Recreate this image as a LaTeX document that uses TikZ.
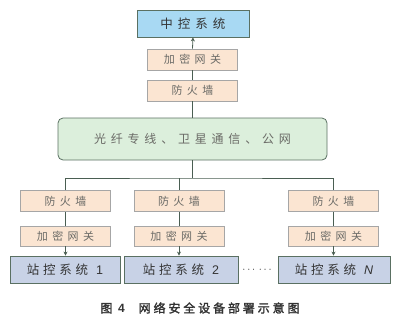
\documentclass[tikz,border=0pt]{standalone}
\usepackage{fontspec}
\usepackage{tikz}
\usetikzlibrary{arrows.meta,positioning,calc}
\newfontfamily\cjk{Noto Sans CJK SC}
\newfontfamily\cjkwide[LetterSpace=40]{Noto Sans CJK SC}
\newfontfamily\cjkst[LetterSpace=30]{Noto Sans CJK SC}
\newfontfamily\cjkcap[LetterSpace=24,FakeBold=2]{Noto Sans CJK SC}
\newfontfamily\latin{Liberation Sans}
\definecolor{ctrfill}{HTML}{A8D9F3}
\definecolor{gwfill}{HTML}{FBE5D2}
\definecolor{netfill}{HTML}{DCEFDC}
\definecolor{stfill}{HTML}{C8D2E6}
\definecolor{edge}{HTML}{5A7062}
\definecolor{wire}{HTML}{4A5E52}
\definecolor{ink}{HTML}{333333}
\definecolor{softink}{HTML}{6A6A66}

\begin{document}
\begin{tikzpicture}[
  x=1pt, y=-1pt,
  >={Stealth[length=4pt,width=4pt]},
  box/.style={
    draw=edge, line width=0.8pt,
    align=center, inner sep=0pt
  },
  ctr/.style={box, fill=ctrfill, minimum width=112pt, minimum height=27pt,
    text=ink, font=\cjkwide\fontsize{12.5}{14}\selectfont},
  gw/.style={box, draw=gray!70, fill=gwfill, minimum width=90pt, minimum height=21pt,
    text=softink, font=\cjkwide\fontsize{11}{13}\selectfont},
  net/.style={box, fill=netfill, rounded corners=5pt, minimum width=269pt,
    minimum height=42pt, text=softink, font=\cjkwide\fontsize{12}{14}\selectfont},
  st/.style={box, fill=stfill, minimum height=27pt,
    text=ink, font=\cjkst\fontsize{12.5}{14}\selectfont},
  wire/.style={draw=wire, line width=0.8pt},
  arr/.style={wire, ->}
]
  \useasboundingbox (0,0) rectangle (400,322);

  % Central side
  \node[ctr] (center) at (193,23.5) {中控系统};
  \node[gw] (encc) at (192.5,59.5) {加密网关};
  \node[gw] (fwc) at (192.5,90.5) {防火墙};

  % Transport network
  \node[net] (link) at (192.5,139) {光纤专线、卫星通信、公网};

  % Station side
  \node[gw] (fwa) at (65.5,201) {防火墙};
  \node[gw] (fwb) at (179,201) {防火墙};
  \node[gw] (fwn) at (333.5,201) {防火墙};
  \node[gw, minimum height=20pt] (enca) at (65.5,236) {加密网关};
  \node[gw, minimum height=20pt] (encb) at (179,236) {加密网关};
  \node[gw, minimum height=20pt] (encn) at (333.5,236) {加密网关};
  \node[st, minimum width=110pt] (sta) at (65,269.5) {站控系统\hspace{8pt}{\latin 1}};
  \node[st, minimum width=114pt] (stb) at (181,269.5) {站控系统\hspace{8pt}{\latin 2}};
  \node[st, minimum width=112pt] (stn) at (334,269.5) {站控系统\hspace{8pt}{\latin\itshape N}};
  \node[text=ink, font=\cjk\fontsize{11}{13}\selectfont] (dots) at (257,270) {$\cdots\,\cdots$};

  % Caption
  \node[text=ink, font=\cjkcap\fontsize{12}{14}\selectfont] (cap) at (200,308)
    {图 {\latin\bfseries 4}\hspace{14pt}网络安全设备部署示意图};

  % Upward chain
  \draw[wire] (link.north) -- (fwc.south);
  \draw[wire] (fwc.north) -- (encc.south);
  \draw[arr] (encc.north) -- (center.south);

  % Fan-out
  \coordinate (fork) at (192.5,178);
  \draw[wire] (link.south) -- (fork);
  \draw[wire] (fwa.north) |- (fork) -| (fwn.north);
  \draw[wire] (fwb.north) -- (fwb.north |- fork);

  % Station chains
  \draw[wire] (fwa.south) -- (enca.north);
  \draw[wire] (fwb.south) -- (encb.north);
  \draw[wire] (fwn.south) -- (encn.north);
  \draw[arr] (enca.south) -- (enca.south |- sta.north);
  \draw[arr] (encb.south) -- (encb.south |- stb.north);
  \draw[arr] (encn.south) -- (encn.south |- stn.north);
\end{tikzpicture}
\end{document}
